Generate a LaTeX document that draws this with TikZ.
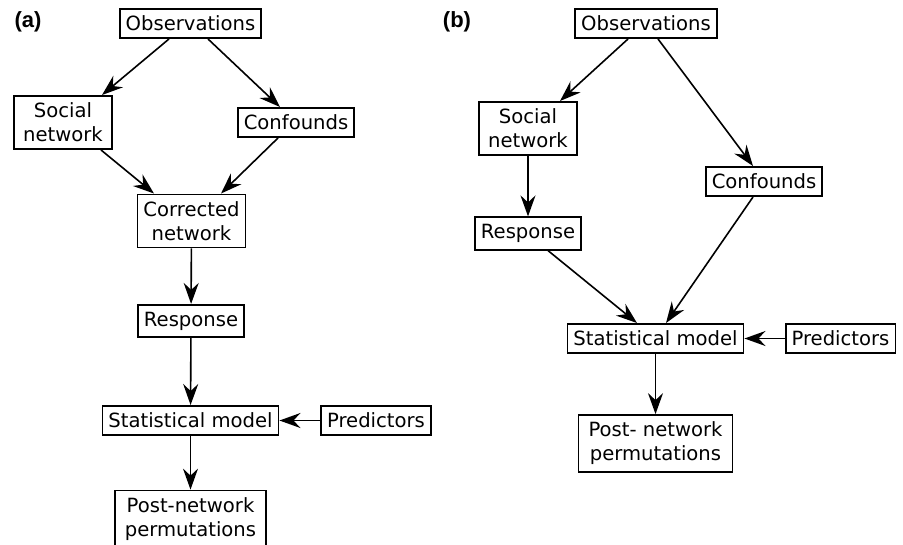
\documentclass[tikz,border=0pt]{standalone}
\usepackage{fontspec}
\setmainfont{DejaVu Sans}
\newfontfamily\labelfont{Liberation Sans}
\usetikzlibrary{arrows.meta}

\tikzset{
    box/.style={draw, line width=0.9pt, align=center, inner xsep=3pt, inner ysep=3.5pt, font=\fontsize{9.8}{12}\selectfont},
    arr/.style={-{Stealth[length=10.5pt, width=7.5pt, inset=3.5pt]}, line width=0.8pt},
    panel/.style={font=\labelfont\bfseries\fontsize{11}{13}\selectfont}
}

\begin{document}
\begin{tikzpicture}[x=0.5pt, y=-0.5pt]
        \clip (0,0) rectangle (903,545);

        % panel (a)
        \node (laba) at (28,22)[panel] {(a)};
        \node (obsa) at (190.5,23.5)[box] {Observations};
        \node (soca) at (63,122.5)[box, inner xsep=4.5pt] {Social\\network};
        \node (confa) at (296,122.5)[box] {Confounds};
        \node (corra) at (191.5,221)[box] {Corrected\\network};
        \node (respa) at (191,321)[box] {Response};
        \node (stata) at (190.5,420.5)[box] {Statistical model};
        \node (preda) at (376,420.5)[box] {Predictors};
        \node (posta) at (190.5,519)[box, inner xsep=5pt] {Post-network\\permutations};

        \draw[arr] ([xshift=-10.75pt]obsa.south) -- ([xshift=19.5pt]soca.north);
        \draw[arr] ([xshift=8.75pt]obsa.south) -- ([xshift=-8pt]confa.north);
        \draw[arr] ([xshift=19pt]soca.south) -- ([xshift=-18.75pt]corra.north);
        \draw[arr] ([xshift=-9pt]confa.south) -- ([xshift=14.75pt]corra.north);
        \draw[arr] (corra) -- (respa);
        \draw[arr] (respa) -- (stata);
        \draw[arr] (preda) -- (stata);
        \draw[arr] (stata) -- (posta);

        % panel (b)
        \node (labb) at (457,22)[panel] {(b)};
        \node (obsb) at (646,23.5)[box] {Observations};
        \node (socb) at (528,128.5)[box, inner xsep=4.5pt] {Social\\network};
        \node (confb) at (764,181.5)[box] {Confounds};
        \node (respb) at (528,233.5)[box] {Response};
        \node (statb) at (655.5,338.5)[box] {Statistical model};
        \node (predb) at (840.5,338.5)[box] {Predictors};
        \node (postb) at (655.5,443.5)[box, inner xsep=5pt] {Post- network\\permutations};

        \draw[arr] ([xshift=-9pt]obsb.south) -- ([xshift=16pt]socb.north);
        \draw[arr] ([xshift=6pt]obsb.south) -- ([xshift=-5.5pt]confb.north);
        \draw[arr] (socb) -- (respb);
        \draw[arr] ([xshift=10pt]respb.south) -- ([xshift=-9.25pt]statb.north);
        \draw[arr] ([xshift=-5.5pt]confb.south) -- ([xshift=5.25pt]statb.north);
        \draw[arr] (predb) -- (statb);
        \draw[arr] (statb) -- (postb);
\end{tikzpicture}
\end{document}
